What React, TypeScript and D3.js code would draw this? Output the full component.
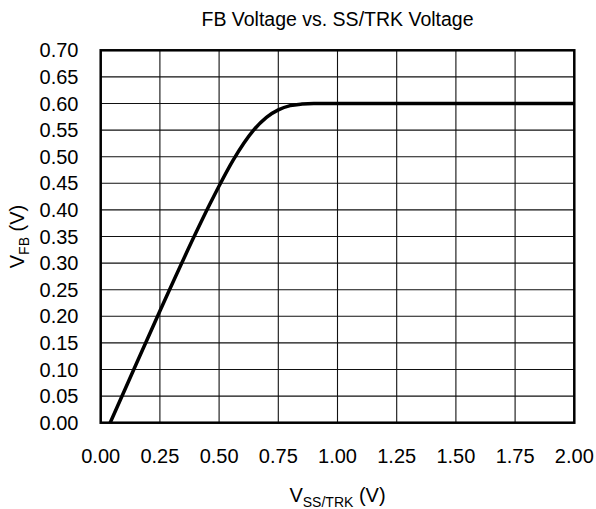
import React from "react";
import * as d3 from "d3";

const vSsTrk = [0.04, 0.1, 0.25, 0.4, 0.46, 0.5, 0.56, 0.644, 0.7, 0.75, 0.8, 0.85, 0.9, 1.0, 1.5, 2.0];
const vFb = [0.0, 0.06, 0.21, 0.355, 0.41, 0.445, 0.494, 0.549, 0.574, 0.588, 0.596, 0.599, 0.6, 0.6, 0.6, 0.6];
const xTicks = [0, 0.25, 0.5, 0.75, 1.0, 1.25, 1.5, 1.75, 2.0];
const yTicks = [0, 0.05, 0.1, 0.15, 0.2, 0.25, 0.3, 0.35, 0.4, 0.45, 0.5, 0.55, 0.6, 0.65, 0.7];
const title = "FB Voltage vs. SS/TRK Voltage";

const W = 596, H = 509;
const L = 100.7, R = 574.3, T = 50.3, B = 422.7;
const FONT = "'Liberation Sans', Arial, sans-serif";

export default function App() {
  const x = d3.scaleLinear().domain([0, 2]).range([L, R]);
  const y = d3.scaleLinear().domain([0, 0.7]).range([B, T]);
  const pts: [number, number][] = vSsTrk.map((v, i) => [v, vFb[i]]);
  const line = d3
    .line<[number, number]>()
    .x((d) => x(d[0]))
    .y((d) => y(d[1]))
    .curve(d3.curveMonotoneX);
  return (
    <svg width={W} height={H} style={{ position: "absolute", left: 0, top: 0, background: "#fff" }} fontFamily={FONT}>
      <rect x={0} y={0} width={W} height={H} fill="#fff" />
      <text x={(L + R) / 2} y={26} fontSize={19.5} textAnchor="middle" fill="#000">{title}</text>
      {xTicks.map((t) => (
        <line key={"gx" + t} x1={x(t)} x2={x(t)} y1={T} y2={B} stroke="#111" strokeWidth={1.1} />
      ))}
      {yTicks.map((t) => (
        <line key={"gy" + t} x1={L} x2={R} y1={y(t)} y2={y(t)} stroke="#111" strokeWidth={1.1} />
      ))}
      <rect x={L} y={T} width={R - L} height={B - T} fill="none" stroke="#000" strokeWidth={2.5} />
      <path d={line(pts) || ""} fill="none" stroke="#000" strokeWidth={3.5} strokeLinejoin="round" />
      {yTicks.map((t) => (
        <text key={"ty" + t} x={78.5} y={y(t)} dy="0.35em" fontSize={20} textAnchor="end" fill="#000">
          {t.toFixed(2)}
        </text>
      ))}
      {xTicks.map((t) => (
        <text key={"tx" + t} x={x(t)} y={463} fontSize={20} textAnchor="middle" fill="#000">
          {t.toFixed(2)}
        </text>
      ))}
      <text x={(L + R) / 2} y={502} fontSize={20} textAnchor="middle" fill="#000">
        V<tspan fontSize={14} dy={5}>SS/TRK</tspan><tspan dy={-5}> (V)</tspan>
      </text>
      <text transform={`translate(24,${(T + B) / 2}) rotate(-90)`} fontSize={20} textAnchor="middle" fill="#000">
        V<tspan fontSize={14} dy={5}>FB</tspan><tspan dy={-5}> (V)</tspan>
      </text>
    </svg>
  );
}
